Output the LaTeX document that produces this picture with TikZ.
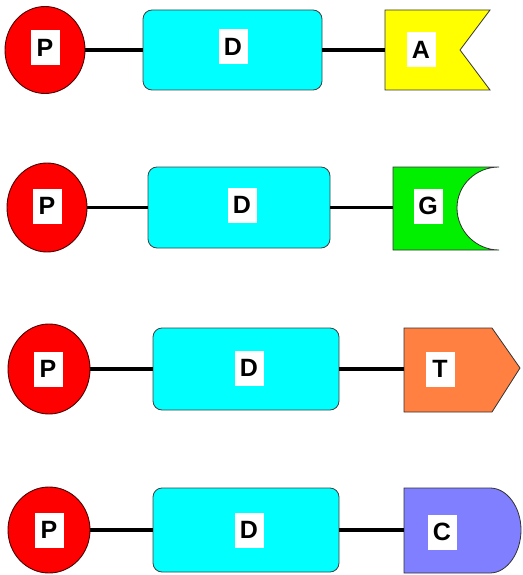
\documentclass[tikz,border=0pt]{standalone}
\usepackage{fontspec}
\setmainfont{Liberation Sans}
\usetikzlibrary{shapes.geometric}
\definecolor{pred}{HTML}{FF0000}
\definecolor{dcyan}{HTML}{00FFFF}
\definecolor{ayel}{HTML}{FFFF00}
\definecolor{ggreen}{HTML}{00F000}
\definecolor{torange}{HTML}{FF8040}
\definecolor{cblue}{HTML}{7F7FFF}
\begin{document}
\begin{tikzpicture}[x=1pt,y=-1pt,
  pnode/.style={ellipse,fill=pred,draw=black!70!red,line width=0.9pt,minimum width=80pt,minimum height=87pt,inner sep=0pt},
  dnode/.style={rectangle,rounded corners=9pt,fill=dcyan,draw=black!75,line width=0.8pt,minimum width=184pt,minimum height=82pt,inner sep=0pt},
  lbl/.style={fill=white,minimum width=29pt,minimum height=35pt,inner sep=0pt,font=\fontsize{25}{25}\selectfont\bfseries},
  link/.style={line width=3.2pt,black},
  endshape/.style={draw=black!80,line width=0.8pt}
]
\useasboundingbox (0,0) rectangle (522,575);

% Row 1
\node[pnode] (p1) at (45,50) {};
\node[dnode,minimum width=179pt,minimum height=80pt] (d1) at (232.5,50) {};
\filldraw[endshape,fill=ayel] (385,10) -- (490,10) -- (460,50) -- (490,90) -- (385,90) -- cycle;
\coordinate (a1w) at (385,50);
\node[lbl] (lp1) at (45,48) {P};
\node[lbl] (ld1) at (233,47) {D};
\node[lbl] (la1) at (421,50) {A};
\draw[link] (p1) -- (d1);
\draw[link] (d1) -- (a1w);

% Row 2
\node[pnode,minimum height=89pt] (p2) at (47,207.5) {};
\node[dnode,minimum width=182pt,minimum height=81pt] (d2) at (239,207.5) {};
\filldraw[endshape,fill=ggreen] (393,167) -- (499,167) .. controls (476,167) and (457,185) .. (457,208) .. controls (457,231) and (476,250) .. (499,250) -- (393,250) -- cycle;
\coordinate (g2w) at (393,207.5);
\node[lbl] (lp2) at (47,206) {P};
\node[lbl] (ld2) at (242,205) {D};
\node[lbl] (lg2) at (428,206) {G};
\draw[link] (p2) -- (d2);
\draw[link] (d2) -- (g2w);

% Row 3
\node[pnode,minimum width=82pt,minimum height=90pt] (p3) at (49,369) {};
\node[dnode,minimum width=186pt,minimum height=82pt] (d3) at (246,369) {};
\filldraw[endshape,fill=torange] (404,328) -- (492,328) -- (520,368) -- (492,412) -- (404,412) -- cycle;
\coordinate (t3w) at (404,369);
\node[lbl] (lp3) at (48,369) {P};
\node[lbl] (ld3) at (249,368) {D};
\node[lbl] (lt3) at (440,369) {T};
\draw[link] (p3) -- (d3);
\draw[link] (d3) -- (t3w);

% Row 4
\node[pnode,minimum width=82pt,minimum height=86pt] (p4) at (49,530) {};
\node[dnode,minimum width=186pt,minimum height=84pt] (d4) at (246,530) {};
\filldraw[endshape,fill=cblue] (404,488) -- (490,488) .. controls (507,488) and (521,507) .. (521,530) .. controls (521,553) and (507,573) .. (490,573) -- (404,573) -- cycle;
\coordinate (c4w) at (404,530);
\node[lbl] (lp4) at (49,530) {P};
\node[lbl] (ld4) at (249,530) {D};
\node[lbl] (lc4) at (442,532) {C};
\draw[link] (p4) -- (d4);
\draw[link] (d4) -- (c4w);
\end{tikzpicture}
\end{document}
